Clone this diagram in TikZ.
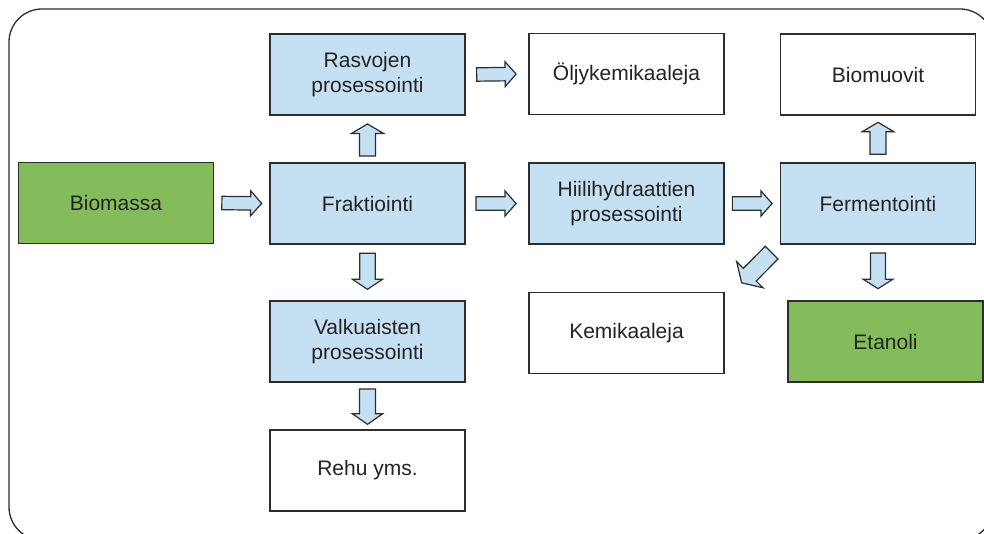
\documentclass[tikz,border=0pt]{standalone}
\usepackage{fontspec}
\setmainfont{Liberation Sans}
\usetikzlibrary{calc}
\definecolor{boxblue}{RGB}{197,224,243}
\definecolor{boxgreen}{RGB}{132,188,92}
\definecolor{edgegray}{RGB}{45,45,45}
\definecolor{textgray}{RGB}{35,35,35}
\tikzset{
  box/.style={draw=edgegray, line width=1.3pt, minimum width=195pt, minimum height=81pt,
    inner sep=0pt, align=center, text=textgray, font=\fontsize{21}{25}\selectfont},
  bluebox/.style={box, fill=boxblue},
  greenbox/.style={box, fill=boxgreen},
  whitebox/.style={box, fill=white},
  blockarrow/.style={draw=edgegray, line width=1.2pt, fill=boxblue, line join=miter},
  frame/.style={draw=edgegray, line width=1.3pt, rounded corners=33pt},
}
% #1 start, #2 end, #3 shaft half width, #4 head half width, #5 head length
\newcommand\barrow[5]{%
  \coordinate (#1#2h) at ($(#2)!#5!(#1)$);
  \draw[blockarrow] ($(#1)!#3!90:(#2)$) -- ($(#1#2h)!#3!90:(#2)$) -- ($(#1#2h)!#4!90:(#2)$)
    -- (#2) -- ($(#1#2h)!#4!-90:(#2)$) -- ($(#1#2h)!#3!-90:(#2)$) -- ($(#1)!#3!-90:(#2)$) -- cycle;}
\begin{document}
\begin{tikzpicture}[x=1pt, y=-1pt]
\useasboundingbox (0,0) rectangle (984,534);
\clip (0,0) rectangle (984,534);
\draw[frame] (9,9) rectangle (993,540);

\node[greenbox] (bio)   at (116,203)     {Biomassa};
\node[bluebox]  (frak)  at (367.5,203.5) {Fraktiointi};
\node[bluebox]  (rasv)  at (367.5,74.5)  {Rasvojen\\prosessointi};
\node[whitebox] (olj)   at (626.5,74)    {Öljykemikaaleja};
\node[bluebox]  (hiili) at (626.5,203.5) {Hiilihydraattien\\prosessointi};
\node[bluebox]  (ferm)  at (878,203.5)   {Fermentointi};
\node[whitebox] (biom)  at (878,74.5)    {Biomuovit};
\node[bluebox]  (valk)  at (367.5,341.5) {Valkuaisten\\prosessointi};
\node[whitebox] (kemi)  at (626.5,333)   {Kemikaaleja};
\node[greenbox] (etan)  at (885.5,341.5) {Etanoli};
\node[whitebox] (rehu)  at (367.5,470.5) {Rehu yms.};

% horizontal arrows
\coordinate (a1s) at ($(bio.east)+(7.7,0)$);    \coordinate (a1e) at ($(frak.west)+(-7.7,0)$);
\coordinate (a2s) at ($(frak.east)+(10.3,0)$);  \coordinate (a2e) at ($(hiili.west)+(-12.3,0)$);
\coordinate (a3s) at ($(rasv.east)+(11,0)$);    \coordinate (a3e) at ($(olj.west)+(-12.3,0)$);
\coordinate (a4s) at ($(hiili.east)+(7.7,0)$);  \coordinate (a4e) at ($(ferm.west)+(-7.8,0)$);
\barrow{a1s}{a1e}{6.7pt}{12.5pt}{11pt}
\barrow{a2s}{a2e}{6.7pt}{12.5pt}{11pt}
\barrow{a3s}{a3e}{6.7pt}{12.5pt}{11pt}
\barrow{a4s}{a4e}{6.7pt}{12.5pt}{11pt}

% vertical arrows
\coordinate (b1s) at ($(frak.north)+(0,-6.3)$); \coordinate (b1e) at ($(rasv.south)+(0,8.3)$);
\coordinate (b2s) at ($(frak.south)+(0,8.7)$);  \coordinate (b2e) at ($(valk.north)+(0,-11)$);
\coordinate (b3s) at ($(valk.south)+(0,6.3)$);  \coordinate (b3e) at ($(rehu.north)+(0,-5)$);
\coordinate (b4s) at ($(ferm.north)+(0,-8)$);   \coordinate (b4e) at ($(biom.south)+(0,6.7)$);
\coordinate (b5s) at ($(ferm.south)+(0,8.3)$);  \coordinate (b5e) at ($(ferm.south |- etan.north)+(0,-11.7)$);
\barrow{b1s}{b1e}{8pt}{16pt}{9.5pt}
\barrow{b2s}{b2e}{7.7pt}{15pt}{10pt}
\barrow{b3s}{b3e}{8pt}{15.2pt}{10.7pt}
\barrow{b4s}{b4e}{8pt}{16pt}{9.5pt}
\barrow{b5s}{b5e}{7.5pt}{14.7pt}{9.3pt}

% diagonal arrow
\coordinate (c1s) at ($(ferm.south west)+(-8.2,8)$);
\coordinate (c1e) at ($(kemi.north east)+(17,-9)$);
\barrow{c1s}{c1e}{9pt}{18.5pt}{11.5pt}
\end{tikzpicture}
\end{document}
